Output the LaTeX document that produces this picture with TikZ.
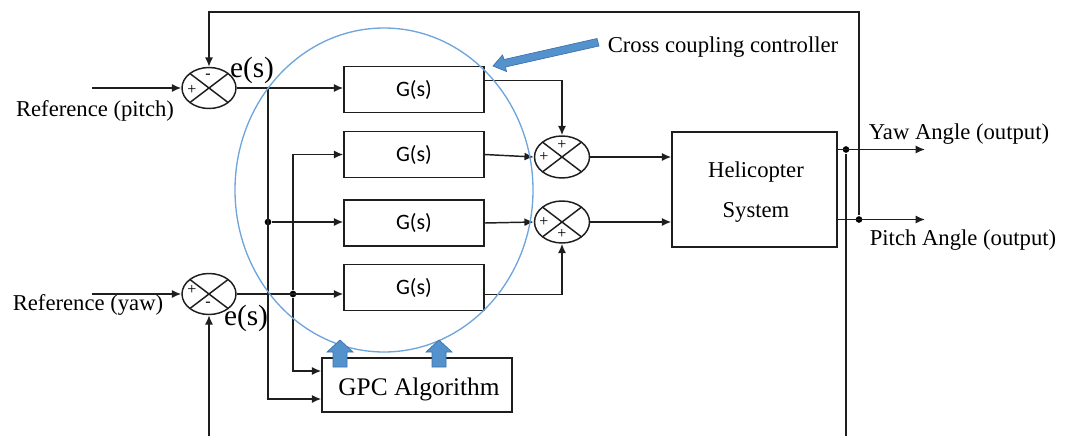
\documentclass[tikz,border=0pt]{standalone}
\usepackage{fontspec}
\setmainfont{Liberation Serif}
\newfontfamily\gfont{Carlito}
\usetikzlibrary{arrows.meta,shapes.geometric,calc}

\definecolor{ringblue}{RGB}{110,165,220}
\definecolor{fatblue}{RGB}{84,146,205}
\definecolor{fatedge}{RGB}{62,112,170}
\definecolor{wire}{RGB}{30,30,30}

\tikzset{
  sumjunc/.style={draw, ellipse, minimum width=40.5pt, minimum height=30.75pt, inner sep=0pt,
    path picture={\draw (path picture bounding box.north west) -- (path picture bounding box.south east)
      (path picture bounding box.south west) -- (path picture bounding box.north east);}},
  gbox/.style={draw, fill=white, minimum width=105pt, minimum height=34.5pt, font=\gfont\fontsize{16.5}{18}\selectfont},
  sign/.style={inner sep=0pt, font=\fontsize{12}{12}\selectfont},
  lbl/.style={inner sep=0pt, font=\fontsize{17}{20}\selectfont},
  errlbl/.style={inner sep=0pt, font=\fontsize{22}{24}\selectfont},
  dot/.style={circle, fill, inner sep=0pt, minimum size=5pt},
  fatarrow/.style={draw=fatedge, fill=fatblue, line width=0.5pt, line join=miter}
}

\begin{document}
\begin{tikzpicture}[x=0.75pt, y=-0.75pt, line width=1.1pt, draw=wire, >={Latex[length=7pt,width=6pt]}]
	\useasboundingbox (0,0) rectangle (1065,436);

	% summing junctions
	\node[sumjunc] (sp) at (209,88) {};
	\node[sumjunc] (sy) at (209,294) {};
	\node[sumjunc, minimum width=41.25pt, minimum height=31.5pt] (s1) at (562,157) {};
	\node[sumjunc, minimum width=41.25pt, minimum height=31.5pt] (s2) at (562,222) {};
		\node[sign] at (192,90) {+};
		\node[sign] at (208,76) {-};
		\node[sign] at (192,290) {+};
		\node[sign] at (208,304) {-};
		\node[sign] at (562,145) {+};
		\node[sign] at (544,157) {+};
		\node[sign] at (544,222) {+};
		\node[sign] at (562,234) {+};

	% blocks
	\node[gbox] (g1) at (414,89.5) {G(s)};
	\node[gbox] (g2) at (414,154.5) {G(s)};
	\node[gbox] (g3) at (414,223) {G(s)};
	\node[gbox] (g4) at (414,287.5) {G(s)};
	\node[draw, minimum width=123.75pt, minimum height=86.25pt] (heli) at (754.5,189.5) {};
		\node[lbl] (heli1) at (756,172) {Helicopter};
		\node[lbl] (heli2) at (756,212) {System};
	\node[draw, minimum width=142.5pt, minimum height=40.5pt] (gpc) at (417,385) {};
		\node[inner sep=0pt, font=\fontsize{19}{22}\selectfont] (gpct) at (419,389) {GPC Algorithm};

	% labels
	\node[lbl] (refp) at (95,111) {Reference (pitch)};
	\node[lbl] (refy) at (88,305) {Reference (yaw)};
	\node[errlbl] (ep) at (252,70) {e(s)};
	\node[errlbl] (ey) at (246,318) {e(s)};
	\node[lbl] (ccc) at (723,47) {Cross coupling controller};
	\node[lbl] (yawl) at (959,134) {Yaw Angle (output)};
	\node[lbl] (pitchl) at (963,240) {Pitch Angle (output)};

	% points
	\coordinate (inp) at (92,88);
	\coordinate (iny) at (92,294);
	\coordinate (j1) at (268,88);
	\node[dot] (d1) at (268,222) {};
	\node[dot] (d2) at (293,294) {};
	\coordinate (gpca) at ($(gpc.west)+(0,-14)$);
	\coordinate (gpcb) at ($(gpc.west)+(0,14)$);
	\coordinate (g1o) at ($(g1.east)+(0,-9)$);
	\coordinate (g4o) at ($(g4.east)+(0,7)$);
	\coordinate (yawo) at ($(heli.east)+(0,-40)$);
	\coordinate (pitcho) at ($(heli.east)+(0,30)$);
	\node[dot] (dy) at (846,149.5) {};
	\node[dot] (dp) at (859,219.5) {};
	\coordinate (yawend) at (925,149.5);
	\coordinate (pitchend) at (925,219.5);
	\coordinate (topr) at (859,12);
	\coordinate (boty) at (846,436);
	\coordinate (botl) at (209,436);

	% signal lines
	\draw[->] (inp) -- (sp.west);
	\draw[->] (iny) -- (sy.west);
	\draw[->] (sp.east) -- (sp.east -| g1.west);
	\draw[->] (j1) |- (gpcb);
	\draw[->] (d1) -- (d1 -| g3.west);
	\draw[->] (sy.east) -- (sy.east -| g4.west);
	\draw[->] (d2) |- (g2.west);
	\draw[->] (d2) |- (gpca);
	\draw[->] (g1o) -| (s1.north);
	\draw[->] (g2.east) -- (s1.west);
	\draw[->] (g3.east) -- (s2.west);
	\draw[->] (g4o) -| (s2.south);
	\draw[->] (s1.east) -- (s1.east -| heli.west);
	\draw[->] (s2.east) -- (s2.east -| heli.west);
	\draw[->] (yawo) -- (yawend);
	\draw[->] (pitcho) -- (pitchend);
	\draw[->] (dp) -- (topr) -| (sp.north);
	\draw (dy) -- (boty);
	\draw[->] (botl) -- (sy.south);

	% cross coupling controller ring and pointers
	\draw[ringblue, line width=1pt] (384,190) ellipse [x radius=111.75pt, y radius=121.5pt];
	\foreach \ax in {340,439}
		\draw[fatarrow] (\ax-7,367) -- (\ax-7,352) -- (\ax-13,352) -- (\ax,340) -- (\ax+13,352) -- (\ax+7,352) -- (\ax+7,367) -- cycle;
	\draw[fatarrow] (597,38.5) -- (504,59.5) -- (502.5,55) -- (493,66) -- (506.5,71.5) -- (505.5,67) -- (599,46) -- cycle;
\end{tikzpicture}
\end{document}
